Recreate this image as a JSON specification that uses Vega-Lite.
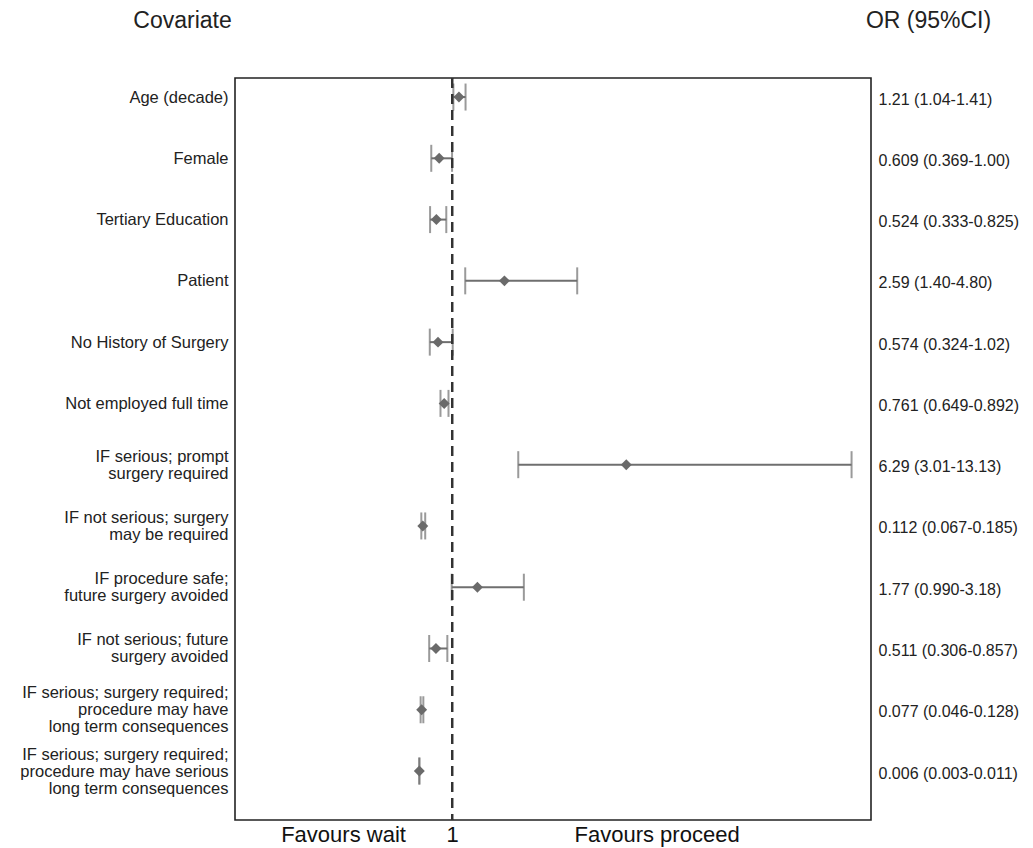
{
  "$schema": "https://vega.github.io/schema/vega-lite/v6.json",
  "autosize": "none",
  "padding": {"left": 235, "top": 78, "right": 162, "bottom": 28},
  "width": 636,
  "height": 742,
  "background": "white",
  "config": {
    "font": "Liberation Sans",
    "view": {"stroke": "#222", "strokeWidth": 1.6},
    "axis": {"grid": false, "ticks": false, "domain": false, "labelColor": "#222", "titleColor": "#222", "titleFontWeight": "normal"}
  },
  "data": {
    "values": [
      {"covariate": "Age (decade)", "ci": "1.21 (1.04-1.41)", "or": 1.21, "lo": 1.04, "hi": 1.41},
      {"covariate": "Female", "ci": "0.609 (0.369-1.00)", "or": 0.609, "lo": 0.369, "hi": 1.00},
      {"covariate": "Tertiary Education", "ci": "0.524 (0.333-0.825)", "or": 0.524, "lo": 0.333, "hi": 0.825},
      {"covariate": "Patient", "ci": "2.59 (1.40-4.80)", "or": 2.59, "lo": 1.40, "hi": 4.80},
      {"covariate": "No History of Surgery", "ci": "0.574 (0.324-1.02)", "or": 0.574, "lo": 0.324, "hi": 1.02},
      {"covariate": "Not employed full time", "ci": "0.761 (0.649-0.892)", "or": 0.761, "lo": 0.649, "hi": 0.892},
      {"covariate": "IF serious; prompt|surgery required", "ci": "6.29 (3.01-13.13)", "or": 6.29, "lo": 3.01, "hi": 13.13},
      {"covariate": "IF not serious; surgery|may be required", "ci": "0.112 (0.067-0.185)", "or": 0.112, "lo": 0.067, "hi": 0.185},
      {"covariate": "IF procedure safe;|future surgery avoided", "ci": "1.77 (0.990-3.18)", "or": 1.77, "lo": 0.990, "hi": 3.18},
      {"covariate": "IF not serious; future|surgery avoided", "ci": "0.511 (0.306-0.857)", "or": 0.511, "lo": 0.306, "hi": 0.857},
      {"covariate": "IF serious; surgery required;|procedure may have|long term consequences", "ci": "0.077 (0.046-0.128)", "or": 0.077, "lo": 0.046, "hi": 0.128},
      {"covariate": "IF serious; surgery required;|procedure may have serious|long term consequences", "ci": "0.006 (0.003-0.011)", "or": 0.006, "lo": 0.003, "hi": 0.011}
    ]
  },
  "layer": [
    {
      "layer": [
        {
          "mark": {"type": "rule", "color": "#6f6f6f", "strokeWidth": 2},
          "encoding": {
            "x": {"field": "lo", "type": "quantitative", "scale": {"domain": [-5.59, 13.72], "nice": false, "zero": false},
              "axis": {"values": [-2.31, 1, 7.21], "labelExpr": "datum.value == 1 ? '1' : (datum.value < 1 ? 'Favours wait' : 'Favours proceed')", "labelFontSize": 22, "labelPadding": 4, "labelColor": "#111", "title": null}},
            "x2": {"field": "hi"},
            "y": {"field": "covariate", "type": "nominal", "sort": null,
              "scale": {"type": "point", "padding": 0.555, "align": 0.28},
              "axis": {"orient": "left", "labelExpr": "split(datum.label, '|')", "labelFontSize": 16.5, "labelLineHeight": 17, "labelLimit": 400, "labelPadding": 7,
                "labelOffset": {"condition": [{"test": "length(split(datum.value, '|')) == 3", "value": -17}, {"test": "length(split(datum.value, '|')) == 2", "value": -8.5}], "value": 0},
                "title": "Covariate", "titleAngle": 0, "titleFontSize": 23, "titleAlign": "center", "titleBaseline": "middle", "titleX": -53, "titleY": -58}}
          }
        },
        {
          "mark": {"type": "tick", "color": "#6f6f6f", "size": 27, "thickness": 2},
          "encoding": {
            "x": {"field": "lo", "type": "quantitative"},
            "y": {"field": "covariate", "type": "nominal", "sort": null}
          }
        },
        {
          "mark": {"type": "tick", "color": "#6f6f6f", "size": 27, "thickness": 2},
          "encoding": {
            "x": {"field": "hi", "type": "quantitative"},
            "y": {"field": "covariate", "type": "nominal", "sort": null}
          }
        },
        {
          "mark": {"type": "rule", "color": "#333", "strokeWidth": 2, "strokeDash": [10, 6]},
          "encoding": {"x": {"datum": 1}}
        }
      ]
    },
    {
      "mark": {"type": "point", "shape": "diamond", "filled": true, "color": "#6a6a6a", "size": 120, "opacity": 1},
      "encoding": {
        "x": {"field": "or", "type": "quantitative"},
        "y": {"field": "ci", "type": "nominal", "sort": null,
          "scale": {"type": "point", "padding": 0.555, "align": 0.28},
          "axis": {"orient": "right", "labelFontSize": 16, "labelLimit": 400, "labelPadding": 7, "labelOffset": 2,
            "title": "OR (95%CI)", "titleAngle": 0, "titleFontSize": 23, "titleAlign": "center", "titleBaseline": "middle", "titleX": 57, "titleY": -58}}
      }
    }
  ],
  "resolve": {"scale": {"y": "independent"}, "axis": {"y": "independent"}}
}
